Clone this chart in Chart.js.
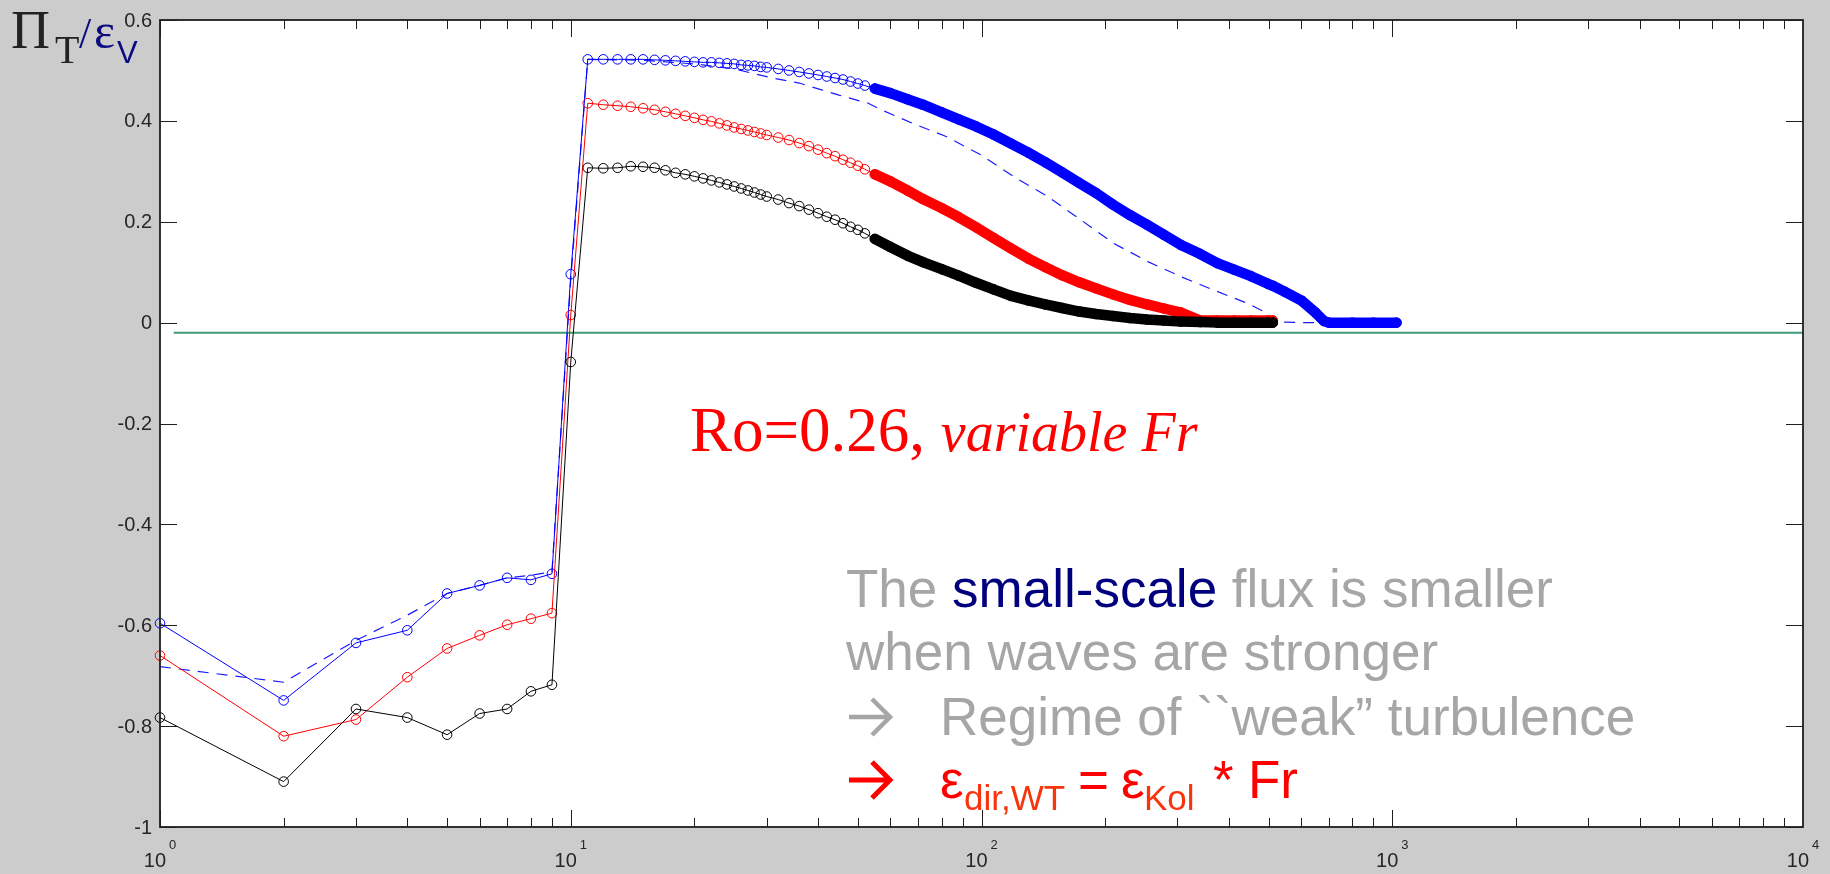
<!DOCTYPE html>
<html>
<head>
<meta charset="utf-8">
<title>Pi_T / eps_V</title>
<script src="https://cdn.jsdelivr.net/npm/chart.js@4.4.0/dist/chart.umd.min.js"></script>
<style>
  html, body { margin: 0; padding: 0; background: #cccccc; }
  #wrap { position: relative; width: 1830px; height: 874px; }
  #canvas { position: absolute; left: 0; top: 0; }
  #notes { position: absolute; left: 0; top: 0; pointer-events: none; }
</style>
</head>
<body>
<div id="wrap">
  <canvas id="canvas" width="1830" height="874"></canvas>
  <svg id="notes" width="1830" height="874" xmlns="http://www.w3.org/2000/svg">
    <!-- y label -->
    <text x="11" y="48" font-family="Liberation Serif" font-size="54" fill="#222222">Π</text>
    <text x="55" y="63" font-family="Liberation Serif" font-size="40" fill="#222222">T</text>
    <text x="79" y="48" font-family="Liberation Serif" font-size="44" fill="#0a0a82">/</text>
    <text x="94" y="48" font-family="Liberation Serif" font-size="50" fill="#0a0a82">ε</text>
    <text x="117" y="63" font-family="Liberation Sans" font-size="31" fill="#0a0a82">V</text>

    <text x="690" y="451" font-family="Liberation Serif" font-size="63" fill="#ff0000">Ro=0.26, <tspan font-style="italic" font-size="56">variable Fr</tspan></text>

    <g font-family="Liberation Sans" font-size="53">
      <text x="846" y="607" fill="#a6a6a6">The <tspan fill="#00007f">small-scale</tspan> flux is smaller</text>
      <text x="846" y="670" fill="#a6a6a6">when waves are stronger</text>
      <path d="M849 717 H889 M872 699 L890 717 L872 735" fill="none" stroke="#a6a6a6" stroke-width="4.5"/>
      <text x="940" y="735" fill="#a6a6a6">Regime of ``weak” turbulence</text>
      <path d="M849 780 H889 M872 762 L890 780 L872 798" fill="none" stroke="#ff0000" stroke-width="5"/>
      <text y="798" fill="#ff0000"><tspan x="940">ε</tspan><tspan x="964" y="810" font-size="35" fill="#f8340c">dir,WT</tspan><tspan x="1078" y="798">=</tspan><tspan x="1121">ε</tspan><tspan x="1144" y="810" font-size="35" fill="#f8340c">Kol</tspan><tspan x="1213" y="798">*</tspan><tspan x="1248">Fr</tspan></text>
    </g>
  </svg>
</div>
<script>
// wavenumbers k (integer shells) where the curves are sampled
const ks = [1, 2, 3, 4, 5, 6, 7, 8, 9, 10,
  11, 12, 13, 14, 15, 16, 17, 18, 19, 20,
  21, 22, 23, 24, 25, 26, 27, 28, 29, 30,
  32, 34, 36, 38, 40,
  42, 44, 46, 48, 50, 52, 55,
  60, 66, 72, 80, 88, 97,
  107, 118, 130, 143, 157, 173, 190, 209, 230, 253,
  278, 306, 341, 375, 412, 453, 498, 512];
const ksBlue = ks.concat([548, 603, 650, 682, 700, 800, 900, 1024]);

const fluxBlue = [-0.596, -0.749, -0.635, -0.610, -0.537, -0.521, -0.506, -0.510, -0.498, 0.096,
  0.522, 0.522, 0.522, 0.522, 0.522, 0.521, 0.520, 0.519, 0.518, 0.517,
  0.516, 0.516, 0.515, 0.514, 0.513, 0.511, 0.510, 0.509, 0.507, 0.506,
  0.503, 0.500, 0.497, 0.494, 0.491,
  0.488, 0.485, 0.482, 0.478, 0.474, 0.470, 0.464,
  0.455, 0.443, 0.432, 0.417, 0.403, 0.389,
  0.373, 0.355, 0.337, 0.318, 0.298, 0.277, 0.257, 0.234, 0.213, 0.194,
  0.174, 0.154, 0.136, 0.118, 0.105, 0.092, 0.077, 0.073,
  0.061, 0.043, 0.020, 0.003, 0, 0, 0, 0];

const fluxRed = [-0.660, -0.820, -0.787, -0.703, -0.646, -0.620, -0.599, -0.587, -0.576, 0.015,
  0.435, 0.432, 0.430, 0.428, 0.425, 0.422, 0.418, 0.414, 0.410, 0.406,
  0.402, 0.399, 0.395, 0.391, 0.387, 0.384, 0.381, 0.378, 0.375, 0.372,
  0.367, 0.362, 0.356, 0.350, 0.343,
  0.336, 0.330, 0.323, 0.317, 0.311, 0.304, 0.294,
  0.280, 0.262, 0.245, 0.227, 0.209, 0.189,
  0.168, 0.147, 0.127, 0.110, 0.094, 0.080, 0.068, 0.056, 0.045, 0.036,
  0.028, 0.020, 0.004, 0.004, 0.004, 0.004, 0.004, 0.004];

const fluxBlack = [-0.783, -0.910, -0.766, -0.783, -0.817, -0.775, -0.766, -0.731, -0.718, -0.078,
  0.307, 0.306, 0.307, 0.310, 0.309, 0.307, 0.302, 0.297, 0.294, 0.290,
  0.286, 0.282, 0.278, 0.274, 0.270, 0.266, 0.262, 0.258, 0.254, 0.250,
  0.244, 0.237, 0.231, 0.224, 0.217,
  0.210, 0.204, 0.197, 0.190, 0.184, 0.177, 0.166,
  0.150, 0.133, 0.120, 0.106, 0.093, 0.079,
  0.066, 0.053, 0.044, 0.036, 0.029, 0.022, 0.017, 0.013, 0.009, 0.006,
  0.004, 0.002, 0.001, 0, 0, 0, 0, 0];

// dashed blue run (no markers)
const ksDash = [1, 2, 3, 4, 5, 6, 7, 8, 9, 10,
  11, 15, 20, 25, 31, 36, 41, 45, 53, 57,
  68, 82, 100, 120, 145, 175, 210, 254, 306, 369,
  445, 489, 510, 600, 682];
const fluxDash = [-0.682, -0.713, -0.630, -0.580, -0.537, -0.521, -0.506, -0.501, -0.494, 0.085,
  0.522, 0.520, 0.513, 0.503, 0.485, 0.475, 0.461, 0.451, 0.435, 0.422,
  0.395, 0.369, 0.332, 0.289, 0.250, 0.203, 0.157, 0.121, 0.091, 0.064,
  0.038, 0.021, 0.002, 0, 0];

// horizontal reference line
const refX = [1.08, 10000];
const refY = [-0.02, -0.02];

const yTicks = [-1, -0.8, -0.6, -0.4, -0.2, 0, 0.2, 0.4, 0.6];
const yTickLabels = ['-1', '-0.8', '-0.6', '-0.4', '-0.2', '0', '0.2', '0.4', '0.6'];
const xDecades = [1, 10, 100, 1000, 10000];
const xExponents = ['0', '1', '2', '3', '4'];

// past this k the open circles overlap into a solid band
const bandFrom = 55;

function pts(xs, ys) {
  return xs.map((k, i) => ({ x: k, y: ys[i] }));
}
function band(xs, ys) {
  return pts(xs, ys).filter(p => p.x >= bandFrom);
}

function circles(data, color, order) {
  return {
    data: data, borderColor: color, borderWidth: 1,
    pointRadius: 4.8, pointBorderWidth: 1, pointBorderColor: color,
    pointBackgroundColor: 'rgba(0,0,0,0)', pointStyle: 'circle',
    order: order, clip: false
  };
}
function thick(data, color, order) {
  return {
    data: data, borderColor: color, borderWidth: 10.5, pointRadius: 0,
    borderJoinStyle: 'round', borderCapStyle: 'round',
    order: order, clip: false
  };
}

// white box, matlab style inward ticks and tick labels
const frame = {
  id: 'frame',
  beforeDraw(chart) {
    const { ctx, chartArea: a } = chart;
    ctx.save();
    ctx.fillStyle = '#cccccc';
    ctx.fillRect(0, 0, chart.width, chart.height);
    ctx.fillStyle = '#ffffff';
    ctx.fillRect(a.left, a.top, a.right - a.left, a.bottom - a.top);
    ctx.restore();
  },
  afterDraw(chart) {
    const { ctx, chartArea: a } = chart;
    const x = chart.scales.x, y = chart.scales.y;
    ctx.save();
    ctx.strokeStyle = '#1e1e1e';
    ctx.lineWidth = 1;
    ctx.beginPath();
    for (let e = 0; e < 4; e++) {
      for (let m = 1; m <= 9; m++) {
        const px = Math.round(x.getPixelForValue(m * Math.pow(10, e))) + 0.5;
        const len = m === 1 ? 17 : 9;
        ctx.moveTo(px, a.bottom); ctx.lineTo(px, a.bottom - len);
        ctx.moveTo(px, a.top); ctx.lineTo(px, a.top + len);
      }
    }
    yTicks.forEach(v => {
      const py = Math.round(y.getPixelForValue(v)) + 0.5;
      ctx.moveTo(a.left, py); ctx.lineTo(a.left + 17, py);
      ctx.moveTo(a.right, py); ctx.lineTo(a.right - 17, py);
    });
    ctx.stroke();
    ctx.lineWidth = 1.8;
    ctx.strokeRect(a.left, a.top, a.right - a.left, a.bottom - a.top);

    ctx.fillStyle = '#262626';
    ctx.font = '20px "Liberation Sans", Arial, sans-serif';
    ctx.textAlign = 'right';
    ctx.textBaseline = 'middle';
    yTicks.forEach((v, i) => {
      ctx.fillText(yTickLabels[i], a.left - 8, y.getPixelForValue(v) + 1);
    });
    ctx.textBaseline = 'alphabetic';
    xDecades.forEach((v, i) => {
      const px = x.getPixelForValue(v);
      ctx.font = '20px "Liberation Sans", Arial, sans-serif';
      ctx.textAlign = 'right';
      ctx.fillText('10', px + 6, a.bottom + 40);
      ctx.font = '13px "Liberation Sans", Arial, sans-serif';
      ctx.textAlign = 'left';
      ctx.fillText(xExponents[i], px + 9, a.bottom + 22);
    });
    ctx.restore();
  }
};

const ctx = document.getElementById('canvas');

new Chart(ctx, {
  type: 'line',
  data: {
    datasets: [
      circles(pts(ks, fluxBlack), '#000000', 1),
      thick(band(ks, fluxBlack), '#000000', 2),
      circles(pts(ks, fluxRed), '#ff0000', 3),
      thick(band(ks, fluxRed), '#ff0000', 4),
      circles(pts(ksBlue, fluxBlue), '#0000ff', 5),
      thick(band(ksBlue, fluxBlue), '#0000ff', 6),
      {
        data: pts(ksDash, fluxDash), borderColor: '#1a1aff', borderWidth: 1.2,
        borderDash: [11, 8], pointRadius: 0, order: 7, clip: false
      },
      {
        data: pts(refX, refY), borderColor: '#3d9b75', borderWidth: 2,
        pointRadius: 0, order: 9
      }
    ]
  },
  options: {
    responsive: false,
    devicePixelRatio: 1,
    animation: false,
    events: [],
    layout: { padding: { left: 160, right: 27, top: 20, bottom: 47 } },
    scales: {
      x: { type: 'logarithmic', min: 1, max: 10000, display: false },
      y: { type: 'linear', min: -1, max: 0.6, display: false }
    },
    plugins: {
      legend: { display: false },
      tooltip: { enabled: false }
    }
  },
  plugins: [frame]
});
</script>
</body>
</html>
